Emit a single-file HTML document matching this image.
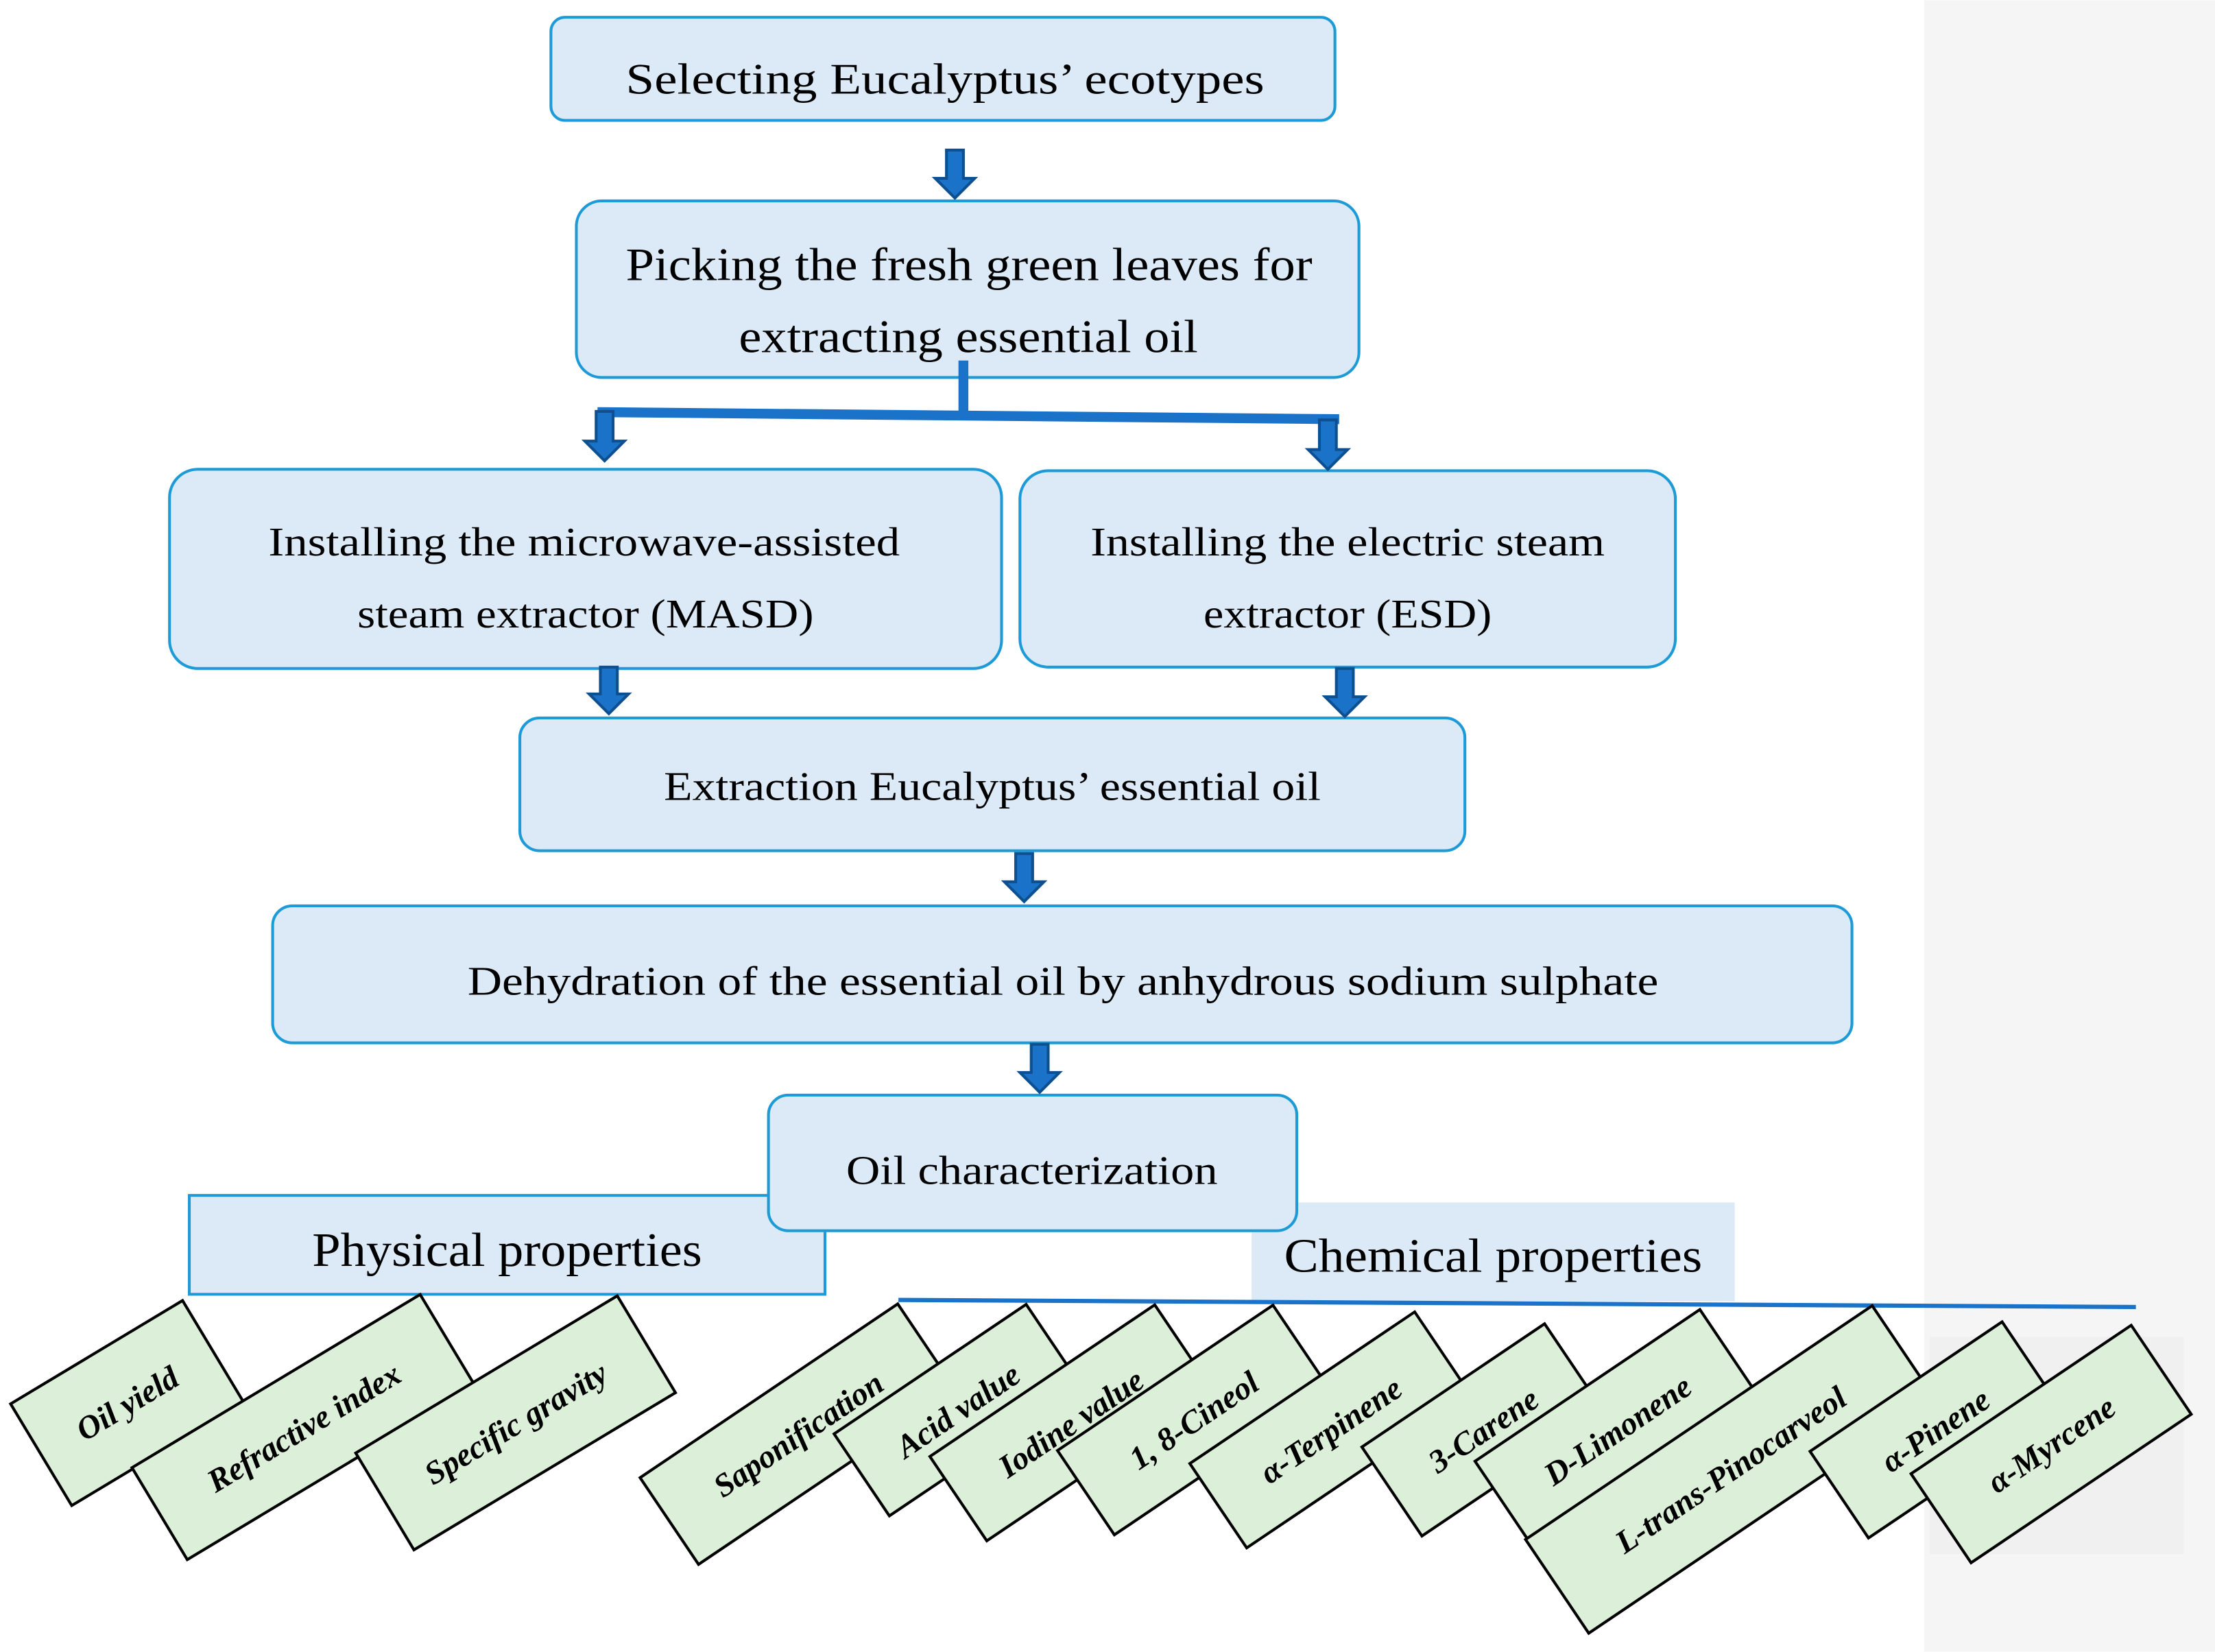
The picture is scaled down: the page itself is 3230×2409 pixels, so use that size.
<!DOCTYPE html>
<html><head><meta charset="utf-8"><style>html,body{margin:0;padding:0;background:#fff}svg{display:block}</style></head>
<body>
<svg width="3230" height="2409" viewBox="0 0 1568 1169" xmlns="http://www.w3.org/2000/svg" font-family="Liberation Serif, serif">
<rect x="0" y="0" width="1568" height="1169" fill="#fff"/>
<rect x="1362" y="0" width="206" height="1169" fill="#f5f5f5"/>
<rect x="1366" y="946" width="180" height="154" fill="#f0f0f0"/>
<g fill="#dbeaf6" stroke="#1e9bd7" stroke-width="2">
<rect x="390" y="12" width="555" height="73" rx="10"/>
<rect x="408" y="142" width="554" height="125" rx="18"/>
<rect x="120" y="332" width="589" height="141" rx="20"/>
<rect x="722" y="333" width="464" height="139" rx="20"/>
<rect x="368" y="508" width="669" height="94" rx="14"/>
<rect x="193" y="641" width="1118" height="97" rx="14"/>
<rect x="134" y="846" width="450" height="70"/>
</g>
<rect x="886" y="851" width="342" height="70" fill="#dbeaf6"/>
<rect x="544" y="775" width="374" height="96" rx="14" fill="#dbeaf6" stroke="#1e9bd7" stroke-width="2"/>
<g fill="#000" lengthAdjust="spacingAndGlyphs">
<text x="443" y="66" font-size="31" textLength="452" lengthAdjust="spacingAndGlyphs">Selecting Eucalyptus’ ecotypes</text>
<text x="443" y="198" font-size="33" textLength="486" lengthAdjust="spacingAndGlyphs">Picking the fresh green leaves for</text>
<text x="523" y="249" font-size="33" textLength="325" lengthAdjust="spacingAndGlyphs">extracting essential oil</text>
<text x="190" y="393" font-size="29" textLength="447" lengthAdjust="spacingAndGlyphs">Installing the microwave-assisted</text>
<text x="253" y="444" font-size="29" textLength="323" lengthAdjust="spacingAndGlyphs">steam extractor (MASD)</text>
<text x="772" y="393" font-size="29" textLength="364" lengthAdjust="spacingAndGlyphs">Installing the electric steam</text>
<text x="852" y="444" font-size="29" textLength="204" lengthAdjust="spacingAndGlyphs">extractor (ESD)</text>
<text x="470" y="566" font-size="29" textLength="465" lengthAdjust="spacingAndGlyphs">Extraction Eucalyptus’ essential oil</text>
<text x="331" y="704" font-size="29" textLength="843" lengthAdjust="spacingAndGlyphs">Dehydration of the essential oil by anhydrous sodium sulphate</text>
<text x="599" y="838" font-size="29" textLength="263" lengthAdjust="spacingAndGlyphs">Oil characterization</text>
<text x="221" y="896" font-size="34" textLength="276" lengthAdjust="spacingAndGlyphs">Physical properties</text>
<text x="909" y="900" font-size="34" textLength="296" lengthAdjust="spacingAndGlyphs">Chemical properties</text>
</g>
<line x1="682" y1="255" x2="682" y2="293" stroke="#1a73c8" stroke-width="7"/>
<polygon points="423,288 948,293 948,300 423,295" fill="#1a73c8"/>
<line x1="636" y1="920" x2="1512" y2="925" stroke="#1a73c8" stroke-width="3"/>
<g fill="#1a73c8" stroke="#0d4f8f" stroke-width="2">
<path d="M670,106 h12 v20 h8 l-14,14 l-14,-14 h8 z"/>
<path d="M422,291 h12 v21 h8 l-14,14 l-14,-14 h8 z"/>
<path d="M934,297 h12 v21 h8 l-14,14 l-14,-14 h8 z"/>
<path d="M425,472 h12 v19 h8 l-14,14 l-14,-14 h8 z"/>
<path d="M946,473 h12 v20 h8 l-14,14 l-14,-14 h8 z"/>
<path d="M719,604 h12 v20 h8 l-14,14 l-14,-14 h8 z"/>
<path d="M730,739 h12 v20 h8 l-14,14 l-14,-14 h8 z"/>
</g>
<g font-weight="bold" font-style="italic" font-size="23" text-anchor="middle">
<g transform="translate(90,993) rotate(-31)"><rect x="-71" y="-42" width="142" height="84" fill="#dcefd9" stroke="#000" stroke-width="2"/><text y="8" fill="#000">Oil yield</text></g>
<g transform="translate(215,1010) rotate(-31)"><rect x="-119" y="-38" width="238" height="76" fill="#dcefd9" stroke="#000" stroke-width="2"/><text y="8" fill="#000">Refractive index</text></g>
<g transform="translate(365,1007) rotate(-31)"><rect x="-108" y="-40" width="216" height="80" fill="#dcefd9" stroke="#000" stroke-width="2"/><text y="8" fill="#000">Specific gravity</text></g>
<g transform="translate(565,1015) rotate(-34)"><rect x="-110" y="-37" width="220" height="74" fill="#dcefd9" stroke="#000" stroke-width="2"/><text y="8" fill="#000">Saponification</text></g>
<g transform="translate(678,998) rotate(-34)"><rect x="-82" y="-35" width="164" height="70" fill="#dcefd9" stroke="#000" stroke-width="2"/><text y="8" fill="#000">Acid value</text></g>
<g transform="translate(758,1007) rotate(-34)"><rect x="-96" y="-36" width="192" height="72" fill="#dcefd9" stroke="#000" stroke-width="2"/><text y="8" fill="#000">Iodine value</text></g>
<g transform="translate(845,1005) rotate(-34)"><rect x="-92" y="-36" width="184" height="72" fill="#dcefd9" stroke="#000" stroke-width="2"/><text y="8" fill="#000">1, 8-Cineol</text></g>
<g transform="translate(942,1012) rotate(-34)"><rect x="-96" y="-36" width="192" height="72" fill="#dcefd9" stroke="#000" stroke-width="2"/><text y="8" fill="#000">α-Terpinene</text></g>
<g transform="translate(1050,1012) rotate(-34)"><rect x="-78" y="-38" width="156" height="76" fill="#dcefd9" stroke="#000" stroke-width="2"/><text y="8" fill="#000">3-Carene</text></g>
<g transform="translate(1145,1012) rotate(-34)"><rect x="-96" y="-38" width="192" height="76" fill="#dcefd9" stroke="#000" stroke-width="2"/><text y="8" fill="#000">D-Limonene</text></g>
<g transform="translate(1225,1040) rotate(-34)"><rect x="-148" y="-40" width="296" height="80" fill="#dcefd9" stroke="#000" stroke-width="2"/><text y="8" fill="#000">L-trans-Pinocarveol</text></g>
<g transform="translate(1370,1012) rotate(-34)"><rect x="-82" y="-37" width="164" height="74" fill="#dcefd9" stroke="#000" stroke-width="2"/><text y="8" fill="#000">α-Pinene</text></g>
<g transform="translate(1452,1022) rotate(-34)"><rect x="-94" y="-38" width="188" height="76" fill="#dcefd9" stroke="#000" stroke-width="2"/><text y="8" fill="#000">α-Myrcene</text></g>
</g>
</svg>
</body></html>
